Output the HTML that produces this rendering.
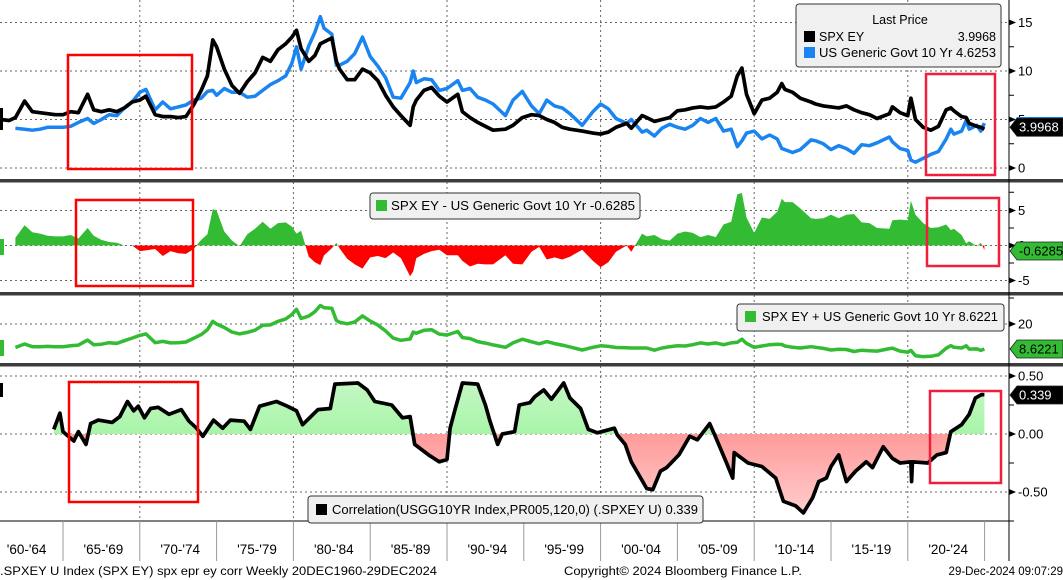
<!DOCTYPE html>
<html><head><meta charset="utf-8">
<style>
html,body{margin:0;padding:0;background:#fff;}
svg{display:block;font-family:"Liberation Sans",sans-serif;}
</style></head>
<body>
<svg id="chart" width="1063" height="580" viewBox="0 0 1063 580" xmlns="http://www.w3.org/2000/svg">
<defs>
<linearGradient id="gGreen" x1="0" y1="0" x2="0" y2="1"><stop offset="0" stop-color="#c4f7c4"/><stop offset="1" stop-color="#7ef07e"/></linearGradient>
<linearGradient id="gRed" x1="0" y1="0" x2="0" y2="1"><stop offset="0" stop-color="#ff7a7a"/><stop offset="1" stop-color="#ffcccc"/></linearGradient>
<clipPath id="c2up"><rect x="0" y="180" width="1009" height="65.5"/></clipPath>
<clipPath id="c2dn"><rect x="0" y="245.5" width="1009" height="48"/></clipPath>
<clipPath id="c4up"><rect x="0" y="366" width="1009" height="68"/></clipPath>
<clipPath id="c4dn"><rect x="0" y="434" width="1009" height="90"/></clipPath>
</defs>
<g id="grid"></g>
<g id="marks"></g>
<g id="frame"></g>
</svg>
<script>
// ---- data ----
const years = [1960.95,1961.5,1961.9,1962.5,1963.0,1963.5,1964.0,1964.5,1965.0,1965.5,1966.0,1966.6,1967.0,1967.5,1968.0,1968.5,1969.0,1969.5,1970.0,1970.4,1971.0,1971.5,1972.0,1972.5,1973.0,1973.5,1974.0,1974.4,1974.75,1975.0,1975.5,1976.0,1976.5,1977.0,1977.5,1978.0,1978.5,1979.0,1979.5,1979.9,1980.2,1980.5,1981.0,1981.4,1981.75,1982.0,1982.5,1982.8,1983.0,1983.5,1984.0,1984.5,1985.0,1985.5,1986.0,1986.5,1987.0,1987.6,1987.8,1988.0,1988.5,1989.0,1989.5,1990.0,1990.7,1991.0,1991.5,1992.0,1992.5,1993.0,1993.8,1994.3,1994.9,1995.5,1996.0,1996.5,1997.0,1997.5,1998.0,1998.8,1999.5,2000.0,2000.5,2001.0,2001.7,2002.0,2002.7,2003.0,2003.5,2004.0,2004.5,2005.0,2005.5,2006.0,2006.5,2007.0,2007.5,2008.0,2008.5,2008.9,2009.2,2009.5,2010.0,2010.5,2011.0,2011.5,2011.8,2012.0,2012.5,2013.0,2013.7,2014.0,2014.5,2015.0,2015.5,2016.0,2016.5,2017.0,2017.5,2018.0,2018.8,2019.0,2019.5,2020.0,2020.2,2020.5,2021.0,2021.5,2022.0,2022.5,2022.8,2023.0,2023.5,2023.8,2024.0,2024.5,2024.75,2024.99];
const spxEY = [5.0,4.9,5.2,6.9,5.8,5.7,5.6,5.5,5.5,5.8,5.7,7.6,6.0,5.8,6.0,5.8,6.2,6.8,7.0,7.4,5.5,5.3,5.3,5.2,5.3,6.5,8.0,9.5,13.2,12.5,10.2,8.5,7.7,8.9,9.8,11.4,11.0,12.2,12.8,13.5,14.2,12.3,11.0,11.6,12.8,13.0,13.4,11.0,10.2,9.1,9.1,10.2,9.8,9.0,7.5,6.3,5.4,4.4,6.3,7.0,8.0,8.3,7.4,6.8,7.6,5.8,5.2,4.7,4.3,3.9,4.0,4.4,5.2,5.5,5.4,5.0,4.7,4.2,4.0,3.8,3.6,3.5,3.7,4.2,4.6,4.1,5.4,5.2,4.8,5.0,5.2,5.9,6.0,6.2,6.3,6.2,6.3,6.8,7.4,9.5,10.3,7.6,5.6,7.0,7.2,7.8,8.7,8.1,7.8,7.2,6.8,6.6,6.4,6.3,6.2,6.4,6.0,5.7,5.5,5.1,5.6,6.3,5.7,5.4,7.2,5.0,4.2,3.9,4.3,6.0,6.2,5.9,5.3,5.2,4.6,4.3,4.2,3.9968];
const govt10 = [null,null,4.1,4.0,3.9,4.0,4.2,4.2,4.2,4.3,4.7,5.1,4.6,5.0,5.5,5.4,6.2,6.8,7.8,8.1,6.0,6.8,6.1,6.3,6.5,7.0,7.2,7.9,8.0,7.5,8.2,7.8,7.8,7.3,7.4,8.0,8.6,9.0,9.5,10.8,12.5,10.2,12.6,14.0,15.6,14.4,13.8,10.6,10.6,11.0,11.8,13.5,11.5,10.5,9.3,7.3,7.2,8.8,10.0,8.8,9.2,9.1,8.0,8.2,9.0,8.0,8.2,7.3,7.0,6.6,5.4,7.0,7.9,6.4,5.6,7.0,6.4,6.2,5.6,4.4,5.8,6.6,6.1,5.1,4.6,5.0,3.7,3.9,3.3,4.1,4.5,4.2,4.0,4.4,5.1,4.7,5.1,3.8,4.0,2.2,2.8,3.6,3.8,3.0,3.4,3.0,2.0,1.9,1.6,1.9,2.9,2.8,2.5,1.9,2.3,2.0,1.5,2.4,2.3,2.6,3.2,2.7,2.0,1.8,0.8,0.6,1.0,1.4,1.7,3.0,4.0,3.5,3.8,4.9,4.0,4.4,3.8,4.6253];
const corrYears = [1964.4,1964.8,1965.0,1965.7,1966.0,1966.5,1966.8,1967.3,1968.2,1968.7,1969.2,1969.6,1969.9,1970.3,1970.7,1971.2,1971.9,1972.7,1973.2,1973.7,1974.1,1974.8,1975.4,1975.9,1976.8,1977.2,1977.8,1978.9,1979.6,1980.2,1980.6,1981.6,1982.4,1982.7,1984.2,1984.8,1985.3,1986.4,1987.1,1987.6,1987.9,1988.8,1989.5,1990.0,1990.2,1990.5,1991.0,1992.0,1992.5,1992.8,1993.3,1993.6,1994.4,1994.7,1995.4,1995.7,1996.3,1996.8,1997.6,1998.0,1998.7,1999.2,1999.8,2000.9,2001.1,2001.6,2002.0,2003.0,2003.4,2003.9,2004.3,2005.1,2005.8,2006.3,2007.1,2007.5,2008.2,2008.6,2008.7,2009.6,2010.5,2011.4,2011.9,2012.7,2013.2,2013.8,2014.2,2014.7,2015.0,2015.5,2016.0,2016.6,2017.3,2017.7,2018.4,2019.0,2019.5,2020.2,2020.25,2020.3,2021.3,2021.9,2022.5,2022.8,2023.5,2024.0,2024.4,2024.8,2024.99];
const corrValues = [0.04,0.18,0.02,-0.06,0.02,-0.09,0.09,0.12,0.10,0.15,0.28,0.20,0.24,0.14,0.22,0.23,0.17,0.21,0.11,0.05,-0.02,0.12,0.05,0.12,0.11,0.04,0.24,0.28,0.24,0.20,0.08,0.21,0.22,0.43,0.44,0.38,0.28,0.25,0.14,0.15,-0.09,-0.18,-0.24,-0.22,0.05,0.20,0.44,0.43,0.25,0.11,-0.09,0.0,0.02,0.25,0.27,0.32,0.38,0.30,0.44,0.31,0.22,0.04,0.01,0.05,-0.01,-0.09,-0.24,-0.47,-0.48,-0.32,-0.29,-0.18,-0.02,-0.05,0.09,-0.03,-0.25,-0.38,-0.16,-0.25,-0.28,-0.38,-0.58,-0.62,-0.68,-0.55,-0.41,-0.38,-0.28,-0.18,-0.41,-0.32,-0.24,-0.29,-0.11,-0.21,-0.25,-0.24,-0.41,-0.24,-0.25,-0.18,-0.16,0.02,0.08,0.17,0.31,0.34,0.339];
const xTickLabels = ["'60-'64","'65-'69","'70-'74","'75-'79","'80-'84","'85-'89","'90-'94","'95-'99","'00-'04","'05-'09","'10-'14","'15-'19","'20-'24"];
const p1Ticks = [15,10,5,0];
const p2Ticks = [5,0,-5];
const p3Ticks = [20];
const p4Ticks = [0.5,0,-0.5];
const p4TickLabels = ["0.50","0.00","-0.50"];

// ---- scales ----
const X = yr => 63 + (yr - 1965) * 15.36;
const Y1 = v => 168 - v * 9.7;
const Y2 = v => 245.5 - v * 7;
const Y3 = v => 324 - (v - 20) * 2.2;
const Y4 = v => 434 - v * 116;
const NS = "http://www.w3.org/2000/svg";
const grid = document.getElementById('grid'), marks = document.getElementById('marks'), frame = document.getElementById('frame');
function el(tag, attrs, parent, txt){ const e = document.createElementNS(NS, tag); for (const k in attrs) e.setAttribute(k, attrs[k]); if (txt !== undefined) e.textContent = txt; parent.appendChild(e); return e; }
function linePath(xs, vs, ys){ let d = "", started = false; for (let i = 0; i < xs.length; i++){ if (vs[i] === null || vs[i] === undefined) continue; d += (started ? "L" : "M") + X(xs[i]).toFixed(1) + "," + ys(vs[i]).toFixed(1); started = true; } return d; }
function areaPath(xs, vs, ys, base){ let pts = []; for (let i = 0; i < xs.length; i++){ if (vs[i] === null || vs[i] === undefined) continue; pts.push([X(xs[i]), ys(vs[i])]); } let d = "M" + pts[0][0].toFixed(1) + "," + base; pts.forEach(p => d += "L" + p[0].toFixed(1) + "," + p[1].toFixed(1)); d += "L" + pts[pts.length-1][0].toFixed(1) + "," + base + "Z"; return d; }

const diff = spxEY.map((v, i) => govt10[i] === null ? null : v - govt10[i]);
const sum = spxEY.map((v, i) => govt10[i] === null ? null : v + govt10[i]);

// ---- gridlines ----
const panels = [[0,179],[182,292],[295,363],[366,521]];
[1970,1980,1990,2000,2010,2020].forEach(yr => {
  panels.forEach(p => {
    const g = el('line', {x1:X(yr), x2:X(yr), y1:p[0], y2:p[1], stroke:'#666', 'stroke-width':1, 'stroke-dasharray':'2,3'}, grid);
    
    
  });
});
function hgrid(ticks, ys){ ticks.forEach(t => { const g = el('line', {x1:0, x2:1009, y1:ys(t), y2:ys(t), stroke:'#666', 'stroke-width':1, 'stroke-dasharray':'2,3'}, grid);   }); }
hgrid(p1Ticks, Y1); hgrid(p2Ticks, Y2); hgrid(p3Ticks, Y3); hgrid(p4Ticks, Y4);

// ---- panel 1 lines ----
let m;
m = el('path', {d:linePath(years, govt10, Y1), fill:'none', stroke:'#1a84f0', 'stroke-width':3.5, 'stroke-linejoin':'round'}, marks);
 
m = el('path', {d:linePath(years, spxEY, Y1), fill:'none', stroke:'#000', 'stroke-width':3.7, 'stroke-linejoin':'round'}, marks);
 

// ---- panel 2 spread area ----
const a2 = areaPath(years, diff, Y2, 245.5);
m = el('path', {d:a2, fill:'#33bb33', 'clip-path':'url(#c2up)'}, marks);
 
m = el('path', {d:a2, fill:'#ff0000', 'clip-path':'url(#c2dn)'}, marks);
 

// ---- panel 3 sum line ----
m = el('path', {d:linePath(years, sum, Y3), fill:'none', stroke:'#33bb33', 'stroke-width':3.5, 'stroke-linejoin':'round'}, marks);
 

// ---- panel 4 correlation ----
const a4 = areaPath(corrYears, corrValues, Y4, 434);
m = el('path', {d:a4, fill:'url(#gGreen)', 'clip-path':'url(#c4up)'}, marks);
 
m = el('path', {d:a4, fill:'url(#gRed)', 'clip-path':'url(#c4dn)'}, marks);
 
m = el('path', {d:linePath(corrYears, corrValues, Y4), fill:'none', stroke:'#000', 'stroke-width':3.7, 'stroke-linejoin':'round'}, marks);
 

// ---- red highlight boxes ----
[[68,55,124,114],[926,74,69,101],[76,200,117,86],[927,198,72,68],[69,382,129,120],[930,391,71,92]].forEach(r => {
  const b = el('rect', {x:r[0], y:r[1], width:r[2], height:r[3], fill:'none', stroke:(r[0] > 900 ? '#f0203c' : '#ff0000'), 'stroke-width':2.5}, marks);
   
});

// ---- separators ----
[179,292,363].forEach(y => {
  const s = el('rect', {x:0, y:y, width:1063, height:3.5, fill:'#3c3c3c'}, frame);
   
});
m = el('line', {x1:1009, x2:1009, y1:0, y2:561, stroke:'#000', 'stroke-width':1}, frame);
 
m = el('line', {x1:0, x2:1009, y1:521, y2:521, stroke:'#000', 'stroke-width':1}, frame);
 

function yTicks(ticks, labels, ys, minorStep){
  ticks.forEach((t, i) => {
    const y = ys(t);
    const tri = el('path', {d:`M1009,${y-3}L1016,${y}L1009,${y+3}Z`, fill:'#000'}, frame);
     
    const tx = el('text', {x:1018, y:y+4.5, 'font-size':13, fill:'#000'}, frame, labels[i]);
     
  });
  if (minorStep) ticks.forEach(t => {
    const y = ys(t - minorStep);
    const mt = el('line', {x1:1009, x2:1014, y1:y, y2:y, stroke:'#000', 'stroke-width':1}, frame);
     
  });
}
yTicks(p1Ticks, p1Ticks.map(String), Y1, 2.5);
yTicks(p2Ticks, p2Ticks.map(String), Y2, 2.5);
yTicks(p3Ticks, p3Ticks.map(String), Y3, null);
yTicks(p4Ticks, p4TickLabels, Y4, 0.25);

// ---- x axis ----
for (let i = 0; i < 13; i++){
  const yr = 1965 + i * 5;
  const t = el('line', {x1:X(yr), x2:X(yr), y1:521, y2:561, stroke:'#999', 'stroke-width':1}, frame);
   
}
xTickLabels.forEach((lab, i) => {
  const cx = X(1960 + i * 5 + 2.5) + 2;
  const t = el('text', {x:cx, y:554, 'font-size':13.5, 'text-anchor':'middle', fill:'#000'}, frame, lab);
   
});

// ---- last value tags ----
function tag(y, bg, fg, txt, name, w){
  const g = el('g', {}, frame);
   
  el('path', {d:`M1010,${y}L1017,${y-9}L${1010+w},${y-9}L${1010+w},${y+9}L1017,${y+9}Z`, fill:bg, stroke:'#222', 'stroke-width':0.8}, g);
  el('text', {x:1019, y:y+4.5, 'font-size':13, fill:fg}, g, txt);
}
m = el('path', {d:'M1010,127L1017,117L1063,117L1063,122L1017,122Z', fill:'#1a84f0'}, frame);
 
tag(Y1(spxEY[spxEY.length-1]) - 2, '#000', '#fff', '3.9968', 'spx-ey-last-tag', 53);
tag(251, '#33bb33', '#000', '-0.6285', 'spread-last-tag', 53);
tag(349, '#33bb33', '#000', '8.6221', 'sum-last-tag', 53);
tag(395, '#000', '#fff', '0.339', 'corr-last-tag', 53);
[[0,108,3,22,'#000'],[0,239,4,16,'#33bb33'],[0,340,4,16,'#33bb33'],[0,383,3,14,'#000']].forEach(r => {
  const e = el('rect', {x:r[0], y:r[1], width:r[2], height:r[3], fill:r[4]}, frame);
   
});

// ---- legends ----
function legBox(x, y, w, h, name){
  const g = el('g', {}, frame);
   
  el('rect', {x:x, y:y, width:w, height:h, rx:3, fill:'#f0f0f0', stroke:'#333', 'stroke-width':1}, g);
  return g;
}
let g = legBox(796, 4, 205, 63, 'price-legend');
el('text', {x:900, y:24, 'font-size':12.5, 'text-anchor':'middle'}, g, 'Last Price');
el('rect', {x:804, y:31, width:11, height:11, fill:'#000'}, g);
el('text', {x:819, y:41, 'font-size':12.5}, g, 'SPX EY');
el('text', {x:996, y:41, 'font-size':12.5, 'text-anchor':'end'}, g, '3.9968');
el('rect', {x:804, y:47, width:11, height:11, fill:'#1a84f0'}, g);
el('text', {x:819, y:57, 'font-size':12.5, textLength:177, lengthAdjust:'spacingAndGlyphs'}, g, 'US Generic Govt 10 Yr 4.6253');

g = legBox(370, 193, 270, 26, 'spread-legend');
el('rect', {x:376, y:200, width:11, height:11, fill:'#33bb33'}, g);
el('text', {x:391, y:210, 'font-size':12.5, textLength:244, lengthAdjust:'spacingAndGlyphs'}, g, 'SPX EY - US Generic Govt 10 Yr -0.6285');

g = legBox(737, 304, 267, 27, 'sum-legend');
el('rect', {x:745, y:311, width:11, height:11, fill:'#33bb33'}, g);
el('text', {x:762, y:321, 'font-size':12.5, textLength:236, lengthAdjust:'spacingAndGlyphs'}, g, 'SPX EY + US Generic Govt 10 Yr 8.6221');

g = legBox(308, 496, 395, 27, 'correlation-legend');
el('rect', {x:316, y:504, width:11, height:11, fill:'#000'}, g);
el('text', {x:332, y:514, 'font-size':12.5, textLength:366, lengthAdjust:'spacingAndGlyphs'}, g, 'Correlation(USGG10YR Index,PR005,120,0) (.SPXEY U) 0.339');

// ---- footer ----
m = el('text', {x:0, y:575, 'font-size':11.5, textLength:437, lengthAdjust:'spacingAndGlyphs'}, frame, '.SPXEY U Index (SPX EY) spx epr ey corr  Weekly 20DEC1960-29DEC2024');
 
m = el('text', {x:564, y:575, 'font-size':11.5, textLength:238, lengthAdjust:'spacingAndGlyphs'}, frame, 'Copyright\u00A9 2024 Bloomberg Finance L.P.');
 
m = el('text', {x:1063, y:575, 'font-size':11.5, 'text-anchor':'end'}, frame, '29-Dec-2024 09:07:29');
 
</script>
</body></html>
